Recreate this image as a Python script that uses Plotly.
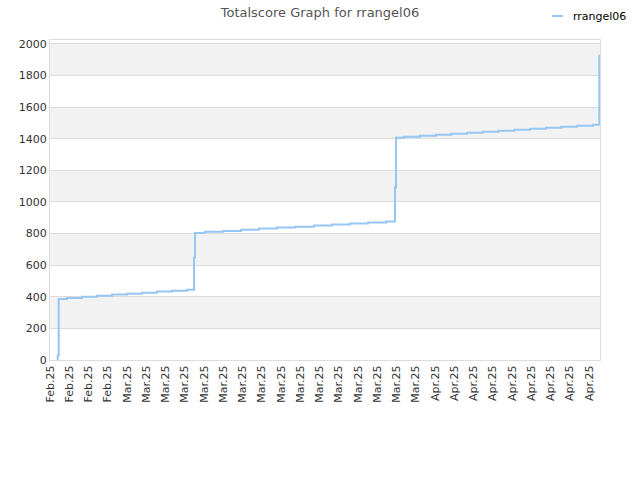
import plotly.graph_objects as go

# score history (step line)
times = [
    "2025-02-21 19:12", "2025-02-21 19:12", "2025-02-21 21:42",
    "2025-02-22 18:24", "2025-02-24 07:48", "2025-02-25 21:12",
    "2025-02-27 10:36", "2025-03-01 00:00", "2025-03-02 13:24",
    "2025-03-04 02:48", "2025-03-05 16:12", "2025-03-07 05:36",
    "2025-03-07 23:06", "2025-03-08 01:36", "2025-03-09 02:30",
    "2025-03-10 23:24", "2025-03-12 20:18", "2025-03-14 17:06",
    "2025-03-16 14:00", "2025-03-18 10:54", "2025-03-20 10:18",
    "2025-03-22 07:12", "2025-03-24 04:06", "2025-03-26 00:54",
    "2025-03-27 21:48", "2025-03-28 20:18", "2025-03-28 22:48",
    "2025-03-29 18:42", "2025-03-31 10:36", "2025-04-02 01:42",
    "2025-04-03 16:36", "2025-04-05 07:48", "2025-04-06 23:00",
    "2025-04-08 13:54", "2025-04-10 05:42", "2025-04-11 20:54",
    "2025-04-13 12:48", "2025-04-15 02:54", "2025-04-16 18:06",
    "2025-04-18 10:00", "2025-04-19 01:42", "2025-04-19 01:42",
    "2025-04-19 01:42",
]
scores = [
    0, 30, 386,
    393, 401, 407,
    414, 420, 426,
    433, 439, 445,
    648, 803, 811,
    817, 825, 832,
    838, 844, 851,
    857, 863, 870,
    876, 1092, 1406,
    1413, 1419, 1425,
    1432, 1438, 1444,
    1451, 1457, 1463,
    1470, 1476, 1482,
    1489, 1550, 1637,
    1932,
]

player = "rrangel06"
band_starts = [200, 600, 1000, 1400, 1800]
line_color = "#95c6f4"

fig = go.Figure()

fig.add_trace(
    go.Scatter(x=times, y=scores,
               name=player,
               mode="lines",
               line_shape="hv",
               line_color=line_color,
               line_width=2,
               showlegend=False)
)

# alternating grey bands
for b in band_starts:
    fig.add_shape(type="rect", xref="paper", yref="y",
                  x0=0, x1=1, y0=b, y1=b + 200,
                  fillcolor="#f2f2f2", opacity=1, line_width=0, layer="below")

# small legend in the top right corner (short swatch like the original)
fig.add_shape(type="line", xref="paper", yref="paper",
              x0=502 / 550, x1=513 / 550, y0=1 + 24 / 320, y1=1 + 24 / 320,
              opacity=1, line=dict(color=line_color, width=2))
fig.add_annotation(xref="paper", yref="paper",
                   x=521 / 550, y=1 + 24 / 320,
                   xanchor="left", yanchor="middle",
                   text=player, showarrow=False,
                   font=dict(size=11, color="#000000"))

fig.update_layout(
    template="simple_white",
    width=640, height=480,
    margin=dict(l=50, r=40, t=40, b=120, autoexpand=False),
    font=dict(family="DejaVu Sans", size=11, color="#333333"),
    title=dict(text="Totalscore Graph for rrangel06", x=0.5, xanchor="center",
               xref="container", yref="container",
               y=1 - 12 / 480, yanchor="middle",
               font=dict(size=13, color="#555555")),
    showlegend=False,
    plot_bgcolor="white",
)

fig.update_xaxes(
    type="date",
    range=["2025-02-21 00:00", "2025-04-19 03:24"],
    tick0="2025-02-21", dtick=2 * 86400000,
    tickformat="%b.%y", tickangle=-90,
    showline=True, mirror=True, linecolor="#dddddd", linewidth=1,
    ticks="", showgrid=False, automargin=False,
)
fig.update_yaxes(
    range=[0, 2025],
    tick0=0, dtick=200,
    showline=True, mirror=True, linecolor="#dddddd", linewidth=1,
    ticks="", showgrid=True, gridcolor="#dddddd", gridwidth=1,
    zeroline=False, automargin=False,
)

# drop the default page margin so the figure sits at the window corner
fig.write_html("out.html",
               config={"displayModeBar": False},
               post_script="document.body.style.margin='0';"
                           "document.body.style.overflow='hidden';")
